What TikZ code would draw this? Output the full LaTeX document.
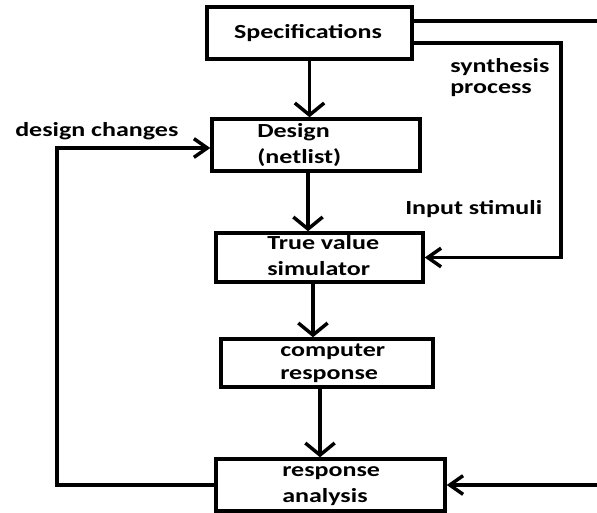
\documentclass[tikz,border=0pt]{standalone}
\usepackage{fontspec}
\setmainfont{Carlito}
\usepackage{graphicx}
\usetikzlibrary{arrows.meta,positioning}

% stretched text, as in the drawing
\newcommand{\wide}[1]{\scalebox{1.3}[1]{#1}}

\begin{document}
\begin{tikzpicture}[x=0.75pt,y=-0.75pt,
    blk/.style 2 args={draw, line width=2.6pt, inner sep=0pt,
      minimum width=#1*0.75pt, minimum height=#2*0.75pt},
    lbl/.style={font=\bfseries\fontsize{15}{19.5}\selectfont,
      inner sep=0pt, align=left, anchor=west},
    conn/.style={line width=2.6pt},
    vtip/.style={-{Straight Barb[length=9pt,width=22pt]}},
    htip/.style={-{Straight Barb[length=10pt,width=14pt]}}]
    \useasboundingbox (0,0) rectangle (597,512);
    \clip (0,0) rectangle (597,512);

    % blocks
    \node[blk={205}{52}] (spec) at (309.5,33) {};
    \node[blk={208}{52}] (design) at (316,145) {};
    \node[blk={207}{49}] (truesim) at (319.5,257.5) {};
    \node[blk={212}{48}] (comp) at (327,363) {};
    \node[blk={229}{52}] (resp) at (330.5,485) {};

    % texts
    \node[lbl, anchor=center] (spectxt) at (308,33) {\wide{Specifications}};
    \node[lbl] (designtxt) at (257,145) {\wide{Design}\\\wide{(netlist)}};
    \node[lbl] (truetxt) at (267,256) {\wide{True value}\\\wide{simulator}};
    \node[lbl, font=\bfseries\fontsize{15}{17.25}\selectfont] (comptxt)
      at (280,363.5) {\wide{computer}\\\wide{response}};
    \node[lbl] (resptxt) at (282,486.5) {\wide{response}\\\wide{analysis}};
    \node[lbl] (changes) at (15,131) {\wide{design changes}};
    \node[lbl, font=\bfseries\fontsize{15}{15.75}\selectfont] (synth)
      at (450,78) {\wide{synthesis}\\\wide{process}};
    \node[lbl] (stimuli) at (405,209) {\wide{Input stimuli}};

    % main flow
    \draw[conn, vtip] (spec.south) -- (spec.south |- design.north);
    \draw[conn, vtip] ([xshift=-6pt]design.south)
      -- ([xshift=-6pt]design.south |- truesim.north);
    \draw[conn, vtip] ([xshift=-4.9pt]truesim.south)
      -- ([xshift=-4.9pt]truesim.south |- comp.north);
    \draw[conn, vtip] ([xshift=-5.25pt]comp.south)
      -- ([xshift=-5.25pt]comp.south |- resp.north);

    % feedback loop on the left
    \coordinate (lft) at (57,148);
    \draw[conn, htip] (resp.west) -| (lft) -- (lft -| design.west);

    % lines from the specifications on the right
    \coordinate (outer) at (600,21);
    \coordinate (inner) at (561,43);
    \draw[conn, htip] (spec.east |- outer) -- (outer) |- (resp.east);
    \draw[conn, htip] (spec.east |- inner) -- (inner) |- (truesim.east);
\end{tikzpicture}
\end{document}
